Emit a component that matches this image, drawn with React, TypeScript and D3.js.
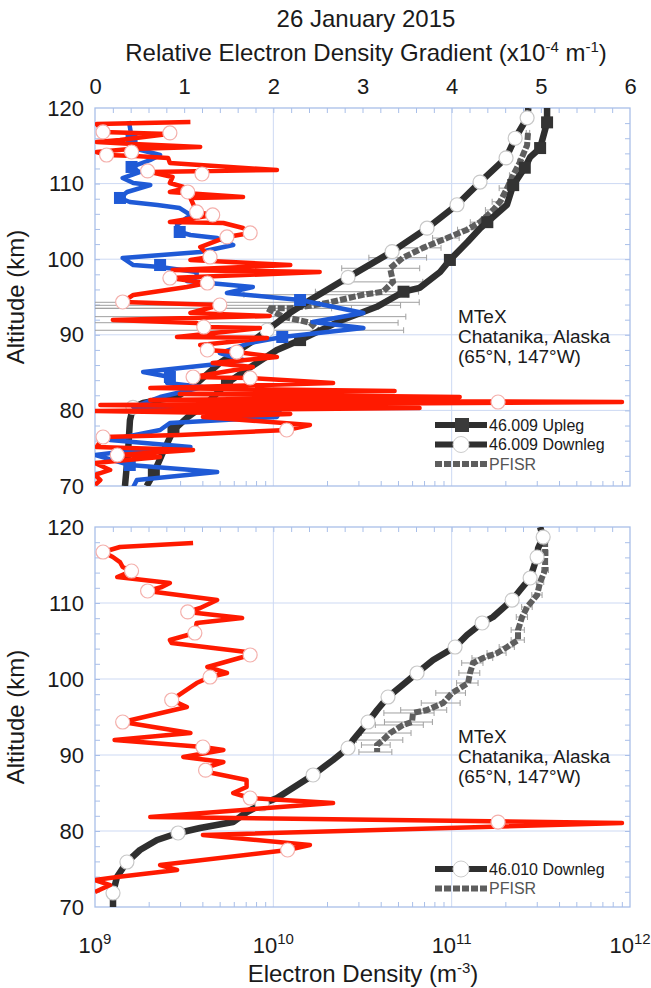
import * as React from 'react';
import * as d3 from 'd3';

// ---- data ----
// density profiles: [altitude km, log10 Ne (m^-3)]
const upleg009 = [
  [120, 11.535], [118.1, 11.535], [114.7, 11.496], [113.5, 11.44], [112.1, 11.41],
  [109.8, 11.345], [107.2, 11.31], [104.9, 11.2], [104.1, 11.16], [102.3, 11.09],
  [99.9, 10.99], [98.3, 10.935], [96.2, 10.82], [95.7, 10.73], [93.7, 10.58],
  [92.0, 10.39], [89.3, 10.15], [88.0, 10.02], [85.7, 9.87], [83.6, 9.74],
  [81.0, 9.63], [79.1, 9.52], [77.4, 9.44], [74.4, 9.38], [71.7, 9.33], [70, 9.29],
];
const upleg009Squares = [
  [118.1, 11.535], [114.7, 11.496], [112.1, 11.41], [109.8, 11.345], [104.9, 11.2],
  [99.9, 10.99], [95.7, 10.73], [89.3, 10.15], [83.6, 9.74], [77.4, 9.44], [71.7, 9.33],
];
const downleg009 = [
  [120, 11.43], [118.7, 11.423], [116.0, 11.356], [113.4, 11.305], [110.2, 11.159],
  [107.2, 11.03], [104.1, 10.862], [101.0, 10.666], [97.6, 10.419], [94.6, 10.206],
  [92.9, 10.094], [90.6, 9.965], [88.9, 9.869], [86.3, 9.701], [83.6, 9.572],
  [81.8, 9.46], [81.0, 9.269], [80.4, 9.213], [78.7, 9.196], [74.4, 9.185], [70, 9.168],
];
const downleg009Circles = [
  [118.7, 11.423], [116.0, 11.356], [113.4, 11.305], [110.2, 11.159], [107.2, 11.03],
  [104.1, 10.862], [101.0, 10.666], [97.6, 10.419], [90.6, 9.965], [80.4, 9.213],
];
// PFISR: [altitude km, log10 Ne, 1-sigma (m^-3)]
const pfisrTop = [
  [116.7, 11.428, 6e9], [115.1, 11.423, 6e9], [112.9, 11.384, 8e9], [111.1, 11.344, 1e10],
  [109.4, 11.311, 2e10], [107.6, 11.271, 1.8e10], [106.5, 11.232, 1.6e10], [104.9, 11.159, 1.7e10],
  [103.9, 11.086, 1.4e10], [102.8, 10.974, 1.6e10], [101.5, 10.84, 1.8e10], [100.2, 10.727, 1.9e10],
  [98.8, 10.655, 2.1e10], [97.0, 10.671, 2.2e10], [95.7, 10.615, 2.4e10], [95.3, 10.503, 2.5e10],
  [94.3, 10.318, 4.5e10], [93.9, 10.223, 3.5e10], [93.5, 10.094, 1.5e10], [93.5, 9.965, 1.2e10],
  [92.4, 10.054, 4.4e10], [91.6, 10.206, 3.4e10], [90.6, 10.25, 3.6e10],
];
const downleg010 = [
  [120, 11.496], [118.68, 11.513], [117.24, 11.485], [116.05, 11.479], [113.29, 11.44],
  [111.71, 11.384], [110.39, 11.339], [108.16, 11.232], [107.37, 11.171], [105.79, 11.086],
  [104.21, 11.019], [102.5, 10.896], [100.79, 10.806], [98.95, 10.711], [97.63, 10.643],
  [95.92, 10.582], [94.34, 10.531], [91.97, 10.447], [90.92, 10.419], [89.34, 10.335],
  [87.37, 10.223], [84.34, 10.021], [83.55, 9.937], [82.5, 9.852], [81.18, 9.774],
  [80.39, 9.589], [79.74, 9.466], [78.82, 9.348], [77.5, 9.252], [75.92, 9.179],
  [73.95, 9.123], [71.84, 9.101], [69.87, 9.101],
];
const downleg010Circles = [
  [118.68, 11.513], [116.05, 11.479], [113.29, 11.44], [110.39, 11.339], [107.37, 11.171],
  [104.21, 11.019], [100.79, 10.806], [97.63, 10.643], [94.34, 10.531], [90.92, 10.419],
  [87.37, 10.223], [83.55, 9.937], [79.74, 9.466], [75.92, 9.179], [71.84, 9.101],
];
const pfisrBottom = [
  [118.29, 11.524, 1.3e10], [116.58, 11.524, 1.3e10], [114.34, 11.524, 1.5e10], [112.76, 11.496, 1.5e10],
  [111.05, 11.479, 2e10], [109.47, 11.423, 1.8e10], [108.16, 11.395, 1.8e10], [106.45, 11.372, 2e10],
  [105.13, 11.372, 2e10], [104.21, 11.311, 2e10], [103.42, 11.255, 2.2e10], [102.76, 11.176, 2e10],
  [102.11, 11.12, 1.8e10], [100.79, 11.103, 1.7e10], [99.47, 11.092, 1.7e10], [98.16, 11.002, 1.9e10],
  [96.84, 10.952, 2.2e10], [95.92, 10.862, 2.1e10], [95.53, 10.783, 1.9e10], [94.34, 10.778, 1.8e10],
  [93.95, 10.727, 1.6e10], [92.89, 10.655, 1.4e10], [91.97, 10.615, 1.2e10], [91.32, 10.582, 7e9],
  [90.39, 10.582, 8e9],
];

// gradient profiles: [altitude km, relative gradient x1e-4 m^-1]
const gradUp009 = [
  [118.28, 0.38], [116.16, 0.41], [114.71, 0.43], [113.78, 0.73], [113.12, 0.62], [112.2, 0.41],
  [111.53, 0.5], [110.74, 0.31], [110.08, 0.43], [109.81, 0.62], [108.89, 0.36], [108.1, 0.28],
  [107.57, 0.39], [107.17, 0.7], [106.77, 0.95], [105.85, 1.07], [104.52, 0.92], [103.6, 0.95],
  [103.2, 1.07], [102.8, 1.37], [101.88, 1.55], [100.95, 1.18], [100.16, 0.31], [99.23, 0.43],
  [98.97, 0.73], [98.31, 1.14], [97.64, 1.14], [97.12, 1.03], [96.32, 1.77], [95.53, 1.48],
  [94.6, 2.3], [92.88, 3.01], [91.69, 2.44], [90.9, 3.01], [89.71, 2.1], [88.92, 1.74],
  [87.59, 1.4], [86.67, 1.66], [86.27, 1.48], [85.08, 0.54], [84.42, 0.84], [83.62, 0.81],
  [83.1, 1.21], [81.77, 0.73], [80.45, 0.43], [79.79, 2.07], [79.13, 2.04], [78.33, 0.84],
  [77.41, 0.73], [76.08, 0.17], [75.16, 1.07], [74.5, 0.28], [74.1, 0.0], [72.78, 0.39],
  [71.85, 1.37], [70.79, 0.47], [69.87, 0.43],
];
const gradUp009Squares = [
  [116.16, 0.41], [112.2, 0.41], [108.1, 0.28], [103.6, 0.95], [99.23, 0.73],
  [94.6, 2.3], [89.71, 2.1], [84.42, 0.84], [72.78, 0.39],
];
const gradDown009 = [
  [118.15, 1.07], [117.88, 0.02], [116.83, 0.09], [116.56, 0.82], [115.77, 0.28], [115.5, 0.02],
  [115.24, 0.43], [114.84, 1.18], [114.58, 0.39], [114.18, 0.02], [113.78, 0.13], [113.65, 0.45],
  [113.39, 0.82], [112.72, 0.84], [111.8, 2.04], [111.53, 0.62], [110.87, 0.87], [110.08, 0.84],
  [109.42, 1.03], [108.89, 0.84], [108.23, 1.66], [108.1, 1.07], [106.25, 1.14], [105.85, 1.32],
  [104.92, 0.84], [104.79, 1.44], [104.13, 1.66], [103.47, 1.74], [102.94, 1.48], [101.61, 1.18],
  [100.29, 1.29], [99.89, 1.07], [99.23, 2.19], [98.57, 0.87], [98.31, 2.52], [97.51, 0.84],
  [96.85, 1.26], [96.32, 1.03], [95.27, 0.43], [94.34, 0.31], [93.94, 1.4], [92.88, 1.07],
  [92.49, 1.96], [91.96, 0.2], [91.56, 1.14], [91.03, 1.22], [90.9, 1.85], [89.71, 0.92],
  [89.58, 1.93], [88.65, 1.18], [87.99, 1.26], [87.72, 1.59], [87.06, 2.04], [86.27, 1.32],
  [85.74, 1.77], [84.42, 1.1], [84.29, 1.74], [83.62, 2.67], [82.96, 0.62], [82.57, 3.36],
  [82.17, 0.95], [81.77, 4.09], [81.38, 0.62], [81.11, 5.91], [80.71, 0.06], [80.32, 3.64],
  [79.92, 0.0], [79.52, 2.19], [79.13, 1.21], [78.07, 2.41], [77.41, 2.15], [76.75, 0.95],
  [76.48, 0.09], [75.16, 0.02], [74.76, 1.1], [74.1, 0.25], [73.84, 0.73], [73.04, 0.0],
  [72.12, 0.17], [71.46, 0.0], [70.79, 0.06], [70.13, 0.0],
];
const gradDown009Circles = [
  [116.83, 0.09], [116.7, 0.84], [113.78, 0.13], [114.18, 0.41], [111.67, 0.59], [111.27, 1.2],
  [108.89, 1.04], [106.25, 1.14], [105.85, 1.32], [102.94, 1.48], [103.47, 1.74], [100.29, 1.29],
  [97.51, 0.84], [96.85, 1.26], [94.34, 0.31], [93.94, 1.4], [91.03, 1.22], [87.99, 1.26],
  [87.72, 1.59], [84.42, 1.1], [84.29, 1.74], [81.11, 4.52], [77.41, 2.15], [76.48, 0.09],
  [74.1, 0.25],
];
const gradDown010 = [
  [117.89, 1.1], [117.37, 0.28], [116.71, 0.09], [116.05, 0.2], [115.39, 0.28], [114.74, 0.31],
  [114.21, 0.41], [113.42, 0.25], [112.63, 0.84], [112.1, 0.75], [111.58, 0.59], [110.39, 1.37],
  [109.34, 1.18], [108.82, 1.04], [108.03, 1.65], [107.37, 1.14], [106.05, 1.12], [105.13, 0.84],
  [104.74, 0.86], [103.55, 1.7], [103.16, 1.74], [101.58, 1.26], [100.79, 1.48], [100.26, 1.29],
  [99.47, 1.14], [97.24, 0.86], [96.32, 1.03], [94.34, 0.31], [92.89, 1.07], [91.97, 0.22],
  [91.05, 1.21], [90.66, 1.44], [89.74, 0.99], [89.08, 1.44], [88.29, 1.23], [87.76, 1.26],
  [86.71, 1.7], [85.79, 1.7], [85.0, 1.55], [84.34, 1.74], [83.68, 2.67], [81.84, 0.62],
  [81.05, 5.91], [79.47, 1.21], [78.16, 2.41], [77.5, 2.16], [75.53, 0.73], [74.87, 0.92],
  [73.95, 0.25], [73.55, 0.0], [72.89, 0.17], [71.97, 0.0],
];
const gradDown010Circles = [
  [116.71, 0.09], [114.21, 0.41], [111.58, 0.59], [108.82, 1.04], [106.05, 1.12], [103.16, 1.74],
  [100.26, 1.29], [97.24, 0.86], [94.34, 0.31], [91.05, 1.21], [88.0, 1.24], [84.34, 1.74],
  [81.18, 4.52], [77.5, 2.16],
];

// tick labels / text
const gradLabels = [0, 1, 2, 3, 4, 5, 6];
const altLabels = [70, 80, 90, 100, 110, 120];
const altGrid = [80, 90, 100, 110];
const neGrid = [1e10, 1e11];
const neExponents = [9, 10, 11, 12];
const site = ['MTeX', 'Chatanika, Alaska', '(65°N, 147°W)'];

// ---- settings ----
const FONT = '"Liberation Sans", Arial, Helvetica, sans-serif';
const X0 = 95;
const X1 = 630;
const frameColor = '#a9bfe9';
const gridColor = '#cdd9f3';
const red = '#ff1a00';
const blue = '#1f5ad6';
const black = '#2f2f2f';
const pfisrColor = '#5e5e5e';

const xLog = d3.scaleLog().domain([1e9, 1e12]).range([X0, X1]);
const xGrad = d3.scaleLinear().domain([0, 6]).range([X0, X1]);

const drawFrame = (svg, y, top, bottom, id) => {
  const g = svg.append('g');

  // gridlines
  g.selectAll('line.h').data(altGrid).enter().append('line')
    .attr('x1', X0).attr('x2', X1)
    .attr('y1', d => y(d)).attr('y2', d => y(d))
    .attr('stroke', gridColor).attr('stroke-width', 1);
  g.selectAll('line.v').data(neGrid).enter().append('line')
    .attr('x1', d => xLog(d)).attr('x2', d => xLog(d))
    .attr('y1', top).attr('y2', bottom)
    .attr('stroke', gridColor).attr('stroke-width', 1);

  // inward ticks on all four sides
  const ticks = (axis, tx, ty) => {
    const a = g.append('g').attr('transform', `translate(${tx},${ty})`).call(axis);
    a.select('.domain').remove();
    a.selectAll('text').remove();
    a.selectAll('line').attr('stroke', frameColor);
  };
  const altTicks = d3.range(72, 120, 2);
  const gradMinor = d3.range(1, 30).map(i => i / 5);
  const logMinor = [1e9, 1e10, 1e11].flatMap(p => d3.range(2, 10).map(k => k * p));
  ticks(d3.axisLeft(y).tickValues(altTicks).tickSize(-5), X0, 0);
  ticks(d3.axisRight(y).tickValues(altTicks).tickSize(-5), X1, 0);
  ticks(d3.axisTop(xGrad).tickValues(gradMinor).tickSize(-5), 0, top);
  ticks(d3.axisBottom(xLog).tickValues(logMinor).tickSize(-5), 0, bottom);

  g.append('rect')
    .attr('x', X0).attr('y', top)
    .attr('width', X1 - X0).attr('height', bottom - top)
    .attr('fill', 'none').attr('stroke', frameColor).attr('stroke-width', 1.3);

  // altitude labels
  const lab = g.append('g').attr('transform', `translate(${X0 - 2},0)`)
    .call(d3.axisLeft(y).tickValues(altLabels).tickSize(0).tickPadding(9));
  lab.select('.domain').remove();
  lab.selectAll('text').attr('font-size', 22).attr('font-family', FONT).attr('fill', '#1a1a1a');

  svg.append('text')
    .attr('transform', `translate(24,${(top + bottom) / 2}) rotate(-90)`)
    .attr('text-anchor', 'middle')
    .attr('font-family', FONT).attr('font-size', 24).attr('fill', '#1a1a1a')
    .text('Altitude (km)');

  svg.append('clipPath').attr('id', id).append('rect')
    .attr('x', X0).attr('y', top).attr('width', X1 - X0).attr('height', bottom - top);
  return svg.append('g').attr('clip-path', `url(#${id})`);
};

const drawPfisr = (plot, y, data) => {
  const ne = d => 10 ** d[1];
  const lo = d => Math.max(ne(d) - d[2], 5e8);
  const hi = d => ne(d) + d[2];
  const eb = plot.append('g').attr('stroke', '#a0a0a0').attr('stroke-width', 1);
  eb.selectAll('line.bar').data(data).enter().append('line')
    .attr('x1', d => xLog(lo(d))).attr('x2', d => xLog(hi(d)))
    .attr('y1', d => y(d[0])).attr('y2', d => y(d[0]));
  eb.selectAll('line.caplo').data(data).enter().append('line')
    .attr('x1', d => xLog(lo(d))).attr('x2', d => xLog(lo(d)))
    .attr('y1', d => y(d[0]) - 3).attr('y2', d => y(d[0]) + 3);
  eb.selectAll('line.caphi').data(data).enter().append('line')
    .attr('x1', d => xLog(hi(d))).attr('x2', d => xLog(hi(d)))
    .attr('y1', d => y(d[0]) - 3).attr('y2', d => y(d[0]) + 3);

  const line = d3.line<any>().x(d => xLog(ne(d))).y(d => y(d[0]));
  plot.append('path').datum(data)
    .attr('d', line).attr('fill', 'none')
    .attr('stroke', pfisrColor).attr('stroke-width', 6)
    .attr('stroke-dasharray', '7,2');
};

const drawDensity = (plot, y, data, width) => {
  const line = d3.line<any>().x(d => xLog(10 ** d[1])).y(d => y(d[0]));
  plot.append('path').datum(data)
    .attr('d', line).attr('fill', 'none')
    .attr('stroke', black).attr('stroke-width', width)
    .attr('stroke-linejoin', 'round');
};

const drawGradient = (plot, y, data, color) => {
  const line = d3.line<any>().x(d => xGrad(d[1])).y(d => y(d[0]));
  plot.append('path').datum(data)
    .attr('d', line).attr('fill', 'none')
    .attr('stroke', color).attr('stroke-width', 4.5)
    .attr('stroke-linejoin', 'round');
};

const drawCircles = (plot, pts, xf, y, outline) => {
  plot.selectAll(null).data(pts).enter().append('circle')
    .attr('cx', d => xf(d[1])).attr('cy', d => y(d[0])).attr('r', 7)
    .attr('fill', '#fff').attr('stroke', outline).attr('stroke-width', 1.2);
};

const drawSquares = (plot, pts, xf, y, color) => {
  plot.selectAll(null).data(pts).enter().append('rect')
    .attr('x', d => xf(d[1]) - 6).attr('y', d => y(d[0]) - 6)
    .attr('width', 12).attr('height', 12).attr('fill', color);
};

const drawLegend = (svg, items, yStart) => {
  items.forEach((it, i) => {
    const ly = yStart + i * 19.5;
    const g = svg.append('g');
    g.append('line').attr('x1', 435).attr('x2', 487).attr('y1', ly).attr('y2', ly)
      .attr('stroke', it.dashed ? pfisrColor : black)
      .attr('stroke-width', it.dashed ? 6 : 6)
      .attr('stroke-dasharray', it.dashed ? '7,2' : null);
    if (it.marker === 'square') {
      g.append('rect').attr('x', 455).attr('y', ly - 7).attr('width', 14).attr('height', 14).attr('fill', '#3a3a3a');
    } else if (it.marker === 'circle') {
      g.append('circle').attr('cx', 461).attr('cy', ly).attr('r', 8)
        .attr('fill', '#fff').attr('stroke', '#ccc').attr('stroke-width', 1);
    }
    g.append('text').attr('x', 489).attr('y', ly).attr('dy', '0.36em')
      .attr('font-family', FONT).attr('font-size', 16)
      .attr('fill', it.dashed ? '#555' : '#1a1a1a')
      .text(it.label);
  });
};

const drawSite = (svg, yStart) => {
  svg.selectAll(null).data(site).enter().append('text')
    .attr('x', 458).attr('y', (d, i) => yStart + i * 20)
    .attr('font-family', FONT).attr('font-size', 19).attr('fill', '#1a1a1a')
    .text(d => d);
};

const renderChart = (node) => {
  const svg = d3.select(node);
  svg.selectAll('*').remove();

  // titles
  svg.append('text').attr('x', 366).attr('y', 27).attr('text-anchor', 'middle')
    .attr('font-family', FONT).attr('font-size', 24).attr('fill', '#1a1a1a')
    .text('26 January 2015');
  const t2 = svg.append('text').attr('x', 366).attr('y', 61).attr('text-anchor', 'middle')
    .attr('font-family', FONT).attr('font-size', 24).attr('fill', '#1a1a1a');
  t2.append('tspan').text('Relative Electron Density Gradient (x10');
  t2.append('tspan').attr('dy', -9).attr('font-size', 15).text('-4');
  t2.append('tspan').attr('dy', 9).text(' m');
  t2.append('tspan').attr('dy', -9).attr('font-size', 15).text('-1');
  t2.append('tspan').attr('dy', 9).text(')');

  // ---------- top panel ----------
  const yTop = d3.scaleLinear().domain([70, 120]).range([486, 108]);
  const gradAxis = svg.append('g').attr('transform', 'translate(0,108)')
    .call(d3.axisTop(xGrad).tickValues(gradLabels).tickSize(0).tickPadding(14).tickFormat(d3.format('d')));
  gradAxis.select('.domain').remove();
  gradAxis.selectAll('text').attr('font-size', 22).attr('font-family', FONT).attr('fill', '#1a1a1a');

  const p1 = drawFrame(svg, yTop, 108, 486, 'clip-top');
  drawPfisr(p1, yTop, pfisrTop);
  drawDensity(p1, yTop, upleg009, 6.5);
  drawDensity(p1, yTop, downleg009, 6.5);
  drawSquares(p1, upleg009Squares, v => xLog(10 ** v), yTop, '#333');
  drawCircles(p1, downleg009Circles, v => xLog(10 ** v), yTop, '#c8c8c8');
  drawGradient(p1, yTop, gradUp009, blue);
  drawSquares(p1, gradUp009Squares, xGrad, yTop, blue);
  drawGradient(p1, yTop, gradDown009, red);
  drawCircles(p1, gradDown009Circles, xGrad, yTop, '#f4b0ac');
  drawSite(svg, 323);
  drawLegend(svg, [
    { label: '46.009 Upleg', marker: 'square' },
    { label: '46.009 Downleg', marker: 'circle' },
    { label: 'PFISR', dashed: true },
  ], 425);

  // ---------- bottom panel ----------
  const yBot = d3.scaleLinear().domain([70, 120]).range([907, 527]);
  const p2 = drawFrame(svg, yBot, 527, 907, 'clip-bot');
  drawPfisr(p2, yBot, pfisrBottom);
  drawDensity(p2, yBot, downleg010, 6.5);
  drawCircles(p2, downleg010Circles, v => xLog(10 ** v), yBot, '#c8c8c8');
  drawGradient(p2, yBot, gradDown010, red);
  drawCircles(p2, gradDown010Circles, xGrad, yBot, '#f4b0ac');
  drawSite(svg, 743);
  drawLegend(svg, [
    { label: '46.010 Downleg', marker: 'circle' },
    { label: 'PFISR', dashed: true },
  ], 869);

  // density axis labels 10^n
  const neLab = svg.selectAll('text.ne').data(neExponents).enter().append('text')
    .attr('x', d => xLog(10 ** d)).attr('y', 953).attr('text-anchor', 'middle')
    .attr('font-family', FONT).attr('font-size', 22).attr('fill', '#1a1a1a');
  neLab.append('tspan').text('10');
  neLab.append('tspan').attr('dy', -9).attr('font-size', 15).text(d => d);

  const xt = svg.append('text').attr('x', 363).attr('y', 982).attr('text-anchor', 'middle')
    .attr('font-family', FONT).attr('font-size', 24).attr('fill', '#1a1a1a');
  xt.append('tspan').text('Electron Density (m');
  xt.append('tspan').attr('dy', -9).attr('font-size', 15).text('-3');
  xt.append('tspan').attr('dy', 9).text(')');
};

const App = () => {
  const ref = React.useRef<SVGSVGElement>(null);

  React.useEffect(() => {
    renderChart(ref.current);
  }, []);

  return (
    <div style={{ position: 'absolute', left: 0, top: 0 }}>
      <svg ref={ref} width={651} height={988} style={{ display: 'block', background: '#fff' }} />
    </div>
  );
};

export default App;
